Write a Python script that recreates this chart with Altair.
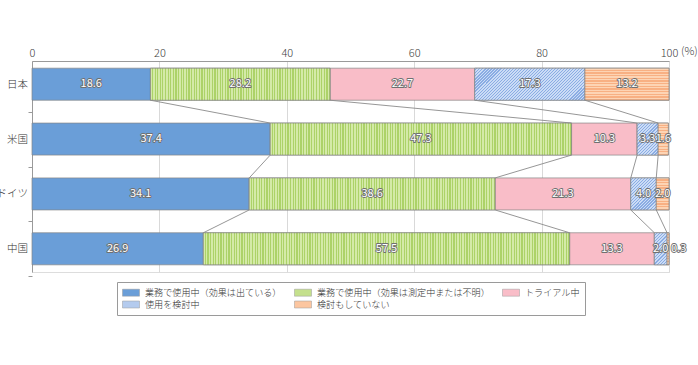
import json
import altair as alt
import pandas as pd

# ---------------- data ----------------
countries = ["日本", "米国", "ドイツ", "中国"]
categories = [
    "業務で使用中（効果は出ている）",
    "業務で使用中（効果は測定中または不明）",
    "トライアル中",
    "使用を検討中",
    "検討もしていない",
]
in_use_effect = [18.6, 37.4, 34.1, 26.9]
in_use_unknown = [28.2, 47.3, 38.6, 57.5]
trial = [22.7, 10.3, 21.3, 13.3]
considering = [17.3, 3.3, 4.0, 2.0]
not_considering = [13.2, 1.6, 2.0, 0.3]
x_ticks = [0, 20, 40, 60, 80, 100]

series = [in_use_effect, in_use_unknown, trial, considering, not_considering]

# ---------------- style ----------------
FONT = "Noto Sans CJK JP"
colors = ["#6a9ed8", "#c4e08c", "#f9bdc8", "#b4cbee", "#fcc6a0"]
W, H = 637, 211
HALF = 0.292          # half bar thickness in row units
BAR_PX = 32
PX_PER_UNIT = W / 100.0
BAND_PX = 54.87
YDOM = [-0.423, len(countries) - 1 + 0.423]

rows = []
for i, c in enumerate(countries):
    cum = 0.0
    for k, cat in enumerate(categories):
        v = series[k][i]
        rows.append(dict(country=c, idx=i, cat=cat, order=k, value=v,
                         start=round(cum, 2), end=round(cum + v, 2),
                         label=f"{v:.1f}"))
        cum += v
bars = pd.DataFrame(rows)
bars["y0"] = bars["idx"] - HALF
bars["y1"] = bars["idx"] + HALF
bars["mid"] = (bars["start"] + bars["end"]) / 2

conn = []
for i in range(len(countries) - 1):
    a = bars[bars.idx == i].sort_values("order")
    b = bars[bars.idx == i + 1].sort_values("order")
    for k in range(len(categories) - 1):
        conn.append(dict(x=a.iloc[k]["end"], x2=b.iloc[k]["end"],
                         y=i + HALF, y2=i + 1 - HALF))
conn = pd.DataFrame(conn)

xscale = alt.Scale(domain=[0, 100], nice=False, zero=False)
yscale = alt.Scale(domain=YDOM, nice=False, zero=False, reverse=True)


def stripes(n, c1, c2, frac, x2, y2):
    stops = []
    for j in range(n):
        a = j / n
        b = (j + frac) / n
        e = (j + 1) / n
        stops += [
            {"offset": a, "color": c1},
            {"offset": b, "color": c1},
            {"offset": b, "color": c2},
            {"offset": e, "color": c2},
        ]
    return {"gradient": "linear", "x1": 0, "y1": 0, "x2": x2, "y2": y2, "stops": stops}


base = alt.Chart(bars)
enc_bar = dict(
    x=alt.X("start:Q", scale=xscale, title=None,
            axis=alt.Axis(orient="top", values=x_ticks, ticks=False, labelPadding=3,
                          labelFlush=False,
                          grid=True, gridColor="#d9d9d9", domainColor="#9a9a9a",
                          labelFontSize=11, labelColor="#404040", labelFont=FONT,
                          labelFontWeight=300)),
    x2="end:Q",
    y=alt.Y("y0:Q", scale=yscale, title=None,
            axis=alt.Axis(values=list(range(len(countries))),
                          labelExpr=json.dumps(countries, ensure_ascii=False) + "[datum.value]",
                          grid=False, ticks=True, tickSize=4, tickColor="#9a9a9a",
                          tickOffset=BAND_PX / 2, labelOffset=-BAND_PX / 2,
                          labelPadding=0.5, domainColor="#9a9a9a", labelFlush=False,
                          labelFontSize=10.5, labelColor="#333333", labelFont=FONT,
                          labelFontWeight=300)),
    y2="y1:Q",
)

bar_layer = base.mark_bar(stroke="#858585", strokeWidth=0.7).encode(
    color=alt.Color("cat:N", scale=alt.Scale(domain=categories, range=colors),
                    legend=alt.Legend(
                        orient="none", legendX=85, legendY=221, columns=3,
                        direction="horizontal", title=None,
                        symbolType="M-1,-0.7H2.4V0.7H-1Z", symbolSize=100,
                        symbolStrokeColor="#9a9a9a", symbolStrokeWidth=0.5,
                        labelOffset=12, labelFontSize=9.1, labelFont=FONT,
                        labelFontWeight=300,
                        labelColor="#333333", labelLimit=400,
                        strokeColor="#9a9a9a", padding=5, rowPadding=1,
                        columnPadding=11)),
    order="order:Q",
    **enc_bar,
)

layers = [bar_layer]

xs = alt.X("start:Q", scale=xscale, title=None)
ys = alt.Y("y0:Q", scale=yscale, title=None)

# texture overlays (pure styling)
for i in range(len(countries)):
    # green vertical stripes
    wpx = in_use_unknown[i] * PX_PER_UNIT
    g = stripes(max(int(wpx / 2.6), 4), "#d4eaa8", "#acd268", 0.55, 1, 0)
    layers.append(base.transform_filter(
        (alt.datum.idx == i) & (alt.datum.order == 1)
    ).mark_bar(fill=g, stroke="#858585", strokeWidth=0.7).encode(
        x=xs, x2="end:Q", y=ys, y2="y1:Q"))
    # blue diagonal hatch
    wpx = considering[i] * PX_PER_UNIT
    r = BAR_PX / wpx
    a = (1 + r) / (1 + r * r)
    n = max(int((wpx + BAR_PX) / 3.0), 3)
    h = stripes(n, "#cbdcf6", "#8aace3", 0.62, a, a * r)
    layers.append(base.transform_filter(
        (alt.datum.idx == i) & (alt.datum.order == 3)
    ).mark_bar(fill=h, stroke="#858585", strokeWidth=0.7).encode(
        x=xs, x2="end:Q", y=ys, y2="y1:Q"))

og = stripes(12, "#fdd4b4", "#f8b083", 0.55, 0, 1)
layers.append(base.transform_filter(alt.datum.order == 4).mark_bar(
    fill=og, stroke="#858585", strokeWidth=0.7).encode(
    x=xs, x2="end:Q", y=ys, y2="y1:Q"))

# connector lines
layers.append(alt.Chart(conn).mark_rule(color="#8a8a8a", strokeWidth=0.9).encode(
    x=alt.X("x:Q", scale=xscale, title=None), x2="x2:Q",
    y=alt.Y("y:Q", scale=yscale, title=None), y2="y2:Q"))

# value labels (white with grey outline)
big = base.transform_filter(alt.datum.value >= 1)
small = base.transform_filter(alt.datum.value < 1)
ty = alt.Y("idx:Q", scale=yscale, title=None)
OUT = dict(font=FONT, fontSize=11, stroke="#707070", strokeWidth=1.8,
           strokeJoin="round", fill="#707070", baseline="middle")
INN = dict(font=FONT, fontSize=11, fill="#ffffff", baseline="middle")
layers.append(big.mark_text(**OUT).encode(
    x=alt.X("mid:Q", scale=xscale, title=None), y=ty, text="label:N"))
layers.append(big.mark_text(**INN).encode(
    x=alt.X("mid:Q", scale=xscale, title=None), y=ty, text="label:N"))
layers.append(small.mark_text(align="left", dx=2, **OUT).encode(
    x=alt.X("end:Q", scale=xscale, title=None), y=ty, text="label:N"))
layers.append(small.mark_text(align="left", dx=2, **INN).encode(
    x=alt.X("end:Q", scale=xscale, title=None), y=ty, text="label:N"))

# "(%)" unit next to the 100 tick label
layers.append(alt.Chart(pd.DataFrame({"t": ["(%)"]})).mark_text(
    font=FONT, fontSize=11, fontWeight=300, fill="#404040", align="left",
    baseline="middle").encode(
    text="t:N", x=alt.value(W + 12), y=alt.value(-9)))

chart = alt.layer(*layers).properties(
    width=W, height=H,
    padding={"left": 32, "top": 61, "right": 698 - 32 - W, "bottom": 365 - 61 - H},
    autosize=alt.AutoSizeParams(type="none"),
).configure_view(stroke=None).configure(font=FONT)

chart.save("out.html", embed_options={"renderer": "svg", "actions": False})
